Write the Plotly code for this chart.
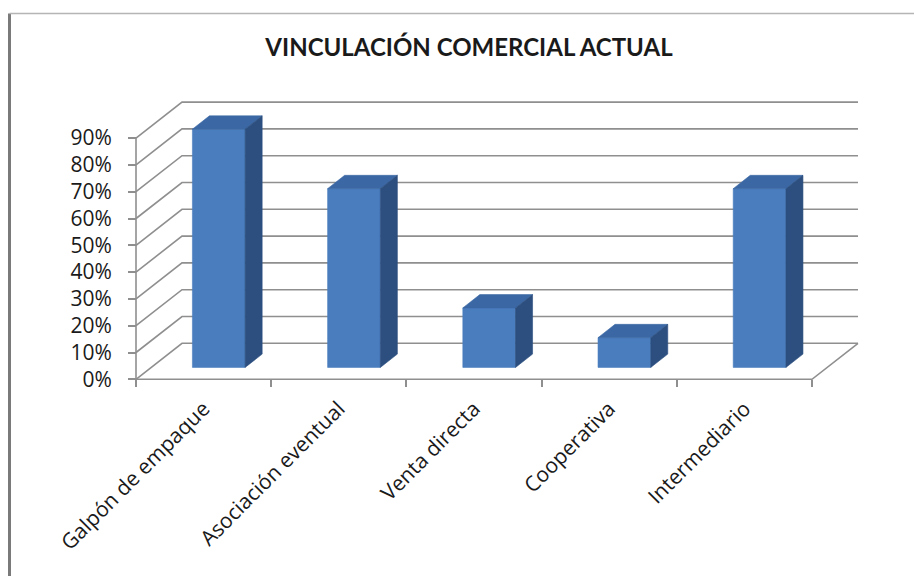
import plotly.graph_objects as go

# ---- data -------------------------------------------------------------
categories = ["Galpón de empaque", "Asociación eventual", "Venta directa",
              "Cooperativa", "Intermediario"]
values = [88.9, 66.7, 22.2, 11.1, 66.7]          # percent
y_ticks = [0, 10, 20, 30, 40, 50, 60, 70, 80, 90]
y_tick_text = [f"{v}%" for v in y_ticks]
title_text = "VINCULACIÓN COMERCIAL ACTUAL"

# ---- pseudo-3D geometry (data units) ----------------------------------
PX_PER_X = 135.2          # pixels per category
PX_PER_Y = 2.68           # pixels per percent
DX = 46 / PX_PER_X        # depth offset of the back wall, x
DY = 36 / PX_PER_Y        # depth offset of the back wall, y
BAR_W = 0.39              # bar width (category units)
F0, FD = 0.33, 0.37       # bar front depth fraction and bar depth fraction

# pixel frame of the plotting area
X0_PX, Y0_PX = 136.0, 379.3     # where x=-0.5, y=0 land
L, R, T, B = 100, 880, 85, 395
W, H = 914, 576

x_range = [-0.5 + (L - X0_PX) / PX_PER_X, -0.5 + (R - X0_PX) / PX_PER_X]
y_range = [(Y0_PX - B) / PX_PER_Y, (Y0_PX - T) / PX_PER_Y]

GRID = "#8f8f8f"
FRONT, TOP, SIDE = "#4a7dbe", "#3b68a4", "#2c4f80"
FONT = "Open Sans"

fig = go.Figure()

# walls, floor and gridlines
gx, gy = [], []
n_cat = len(categories)
for v in y_ticks:
    # side wall diagonal + back wall line
    gx += [-0.5, -0.5 + DX, n_cat - 0.5 + DX, None]
    gy += [v, v + DY, v + DY, None]
# floor front edge and right edge
gx += [-0.5, n_cat - 0.5, n_cat - 0.5 + DX, None]
gy += [0, 0, DY, None]
# front value axis
gx += [-0.5, -0.5, None]
gy += [0, y_ticks[-1], None]
fig.add_trace(go.Scatter(x=gx, y=gy, mode="lines", hoverinfo="skip",
                         line=dict(color=GRID, width=1.6), showlegend=False))

# bars: front, top and side faces
ddx, ddy = FD * DX, FD * DY
for i, v in enumerate(values):
    xl = i + F0 * DX - BAR_W / 2
    xr = i + F0 * DX + BAR_W / 2
    yb = F0 * DY
    yt = yb + v
    faces = [
        ([xl, xr, xr, xl, xl], [yb, yb, yt, yt, yb], FRONT),
        ([xl, xr, xr + ddx, xl + ddx, xl], [yt, yt, yt + ddy, yt + ddy, yt], TOP),
        ([xr, xr + ddx, xr + ddx, xr, xr], [yb, yb + ddy, yt + ddy, yt, yb], SIDE),
    ]
    for fx, fy, col in faces:
        fig.add_trace(go.Scatter(x=fx, y=fy, mode="lines", fill="toself",
                                 fillcolor=col, line=dict(color=col, width=0.6),
                                 hoverinfo="skip", showlegend=False))

def paper_x(px):
    return (px - L) / (R - L)

def paper_y(py):
    return (B - py) / (B - T)

fig.update_layout(
    width=W, height=H,
    margin=dict(l=L, r=W - R, t=T, b=H - B),
    paper_bgcolor="white", plot_bgcolor="white",
    title=dict(text=f"<b>{title_text}</b>", x=469 / W, xref="container",
               xanchor="center", y=1 - 48 / H, yref="container", yanchor="middle",
               font=dict(family="Lato", size=24, color="#1a1a1a")),
    xaxis=dict(range=x_range, anchor="free", position=paper_y(Y0_PX),
               showgrid=False, zeroline=False, showline=False,
               tickvals=list(range(n_cat)), ticktext=categories, tickangle=-45,
               ticks="", ticklabelstandoff=12,
               tickfont=dict(family=FONT, size=21, color="#1a1a1a"),
               minor=dict(tickvals=[k - 0.5 for k in range(n_cat + 1)],
                          ticks="outside", ticklen=7, tickcolor=GRID, tickwidth=1.6)),
    yaxis=dict(range=y_range, anchor="free", position=paper_x(X0_PX),
               showgrid=False, zeroline=False, showline=False,
               tickvals=y_ticks, ticktext=y_tick_text, ticks="outside",
               ticklen=8, tickcolor=GRID, tickwidth=1.6, ticklabelstandoff=12,
               tickfont=dict(family=FONT, size=21, color="#1a1a1a")),
    shapes=[
        dict(type="line", xref="paper", yref="paper",
             x0=paper_x(9.5), x1=paper_x(9.5), y0=paper_y(13.5), y1=paper_y(620),
             line=dict(color="#7a7a7a", width=3)),
        dict(type="line", xref="paper", yref="paper",
             x0=paper_x(9.5), x1=paper_x(930), y0=paper_y(13.5), y1=paper_y(13.5),
             line=dict(color="#b5b5b5", width=1.5)),
    ],
)

fig.write_html("out.html")
